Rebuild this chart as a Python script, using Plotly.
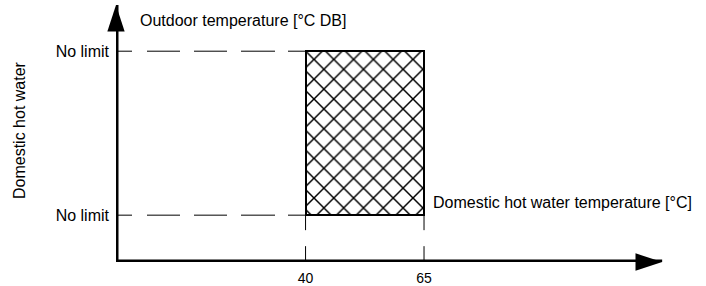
import plotly.graph_objects as go

# ---- data ----
x_ticks = [40, 65]
x_tick_labels = ["40", "65"]
y_limits = [1.0, 4.5]              # lower / upper limit positions (conceptual)
y_tick_labels = ["No limit", "No limit"]
dhw_min = 40                       # domestic hot water temperature range [°C]
dhw_max = 65
x_axis_end = 115.25
y_axis_end = 5.487
x_range = [0, 124.5]
y_range = [0, 5.593]

x_title = "Domestic hot water temperature [°C]"
y_title_top = "Outdoor temperature [°C DB]"
y_title_side = "Domestic hot water"

FONT = "Liberation Sans, Arial, sans-serif"

fig = go.Figure()

# dashed guide lines (horizontal) from the y axis to the zone
h_dash = "16px,15px,33px,14px,33px,14px,34px,13px,33px"
for yv in y_limits:
    fig.add_trace(go.Scatter(
        x=[x_range[0], dhw_min], y=[yv, yv], mode="lines",
        line=dict(color="black", width=1, dash=h_dash),
        hoverinfo="skip", showlegend=False))

# dashed guide lines (vertical) from the zone down to the x axis
v_dash = "15px,16px,15px,20px"
for xv in [dhw_min, dhw_max]:
    fig.add_trace(go.Scatter(
        x=[xv, xv], y=[y_limits[0], y_range[0]], mode="lines",
        line=dict(color="black", width=1, dash=v_dash),
        hoverinfo="skip", showlegend=False))

# hatched operating zone
fig.add_trace(go.Bar(
    x=[(dhw_min + dhw_max) / 2], width=[dhw_max - dhw_min],
    base=[y_limits[0]], y=[y_limits[1] - y_limits[0]],
    marker=dict(color="white",
                line=dict(color="black", width=2),
                pattern=dict(shape="x", fgcolor="black", bgcolor="white",
                             size=14, solidity=0.2, fillmode="replace")),
    hoverinfo="skip", showlegend=False))

# axis lines
fig.add_trace(go.Scatter(
    x=[0, 0, x_axis_end], y=[y_axis_end, 0, 0], mode="lines",
    line=dict(color="black", width=5),
    hoverinfo="skip", showlegend=False))
# arrow heads
fig.add_trace(go.Scatter(
    x=[0, x_axis_end], y=[y_axis_end, 0], mode="markers",
    marker=dict(symbol="arrow", size=28, angle=[0, 90], color="black",
                line=dict(width=0)),
    hoverinfo="skip", showlegend=False, cliponaxis=False))

fig.update_layout(
    width=706, height=286,
    margin=dict(l=116, r=0, t=0, b=22),
    paper_bgcolor="white", plot_bgcolor="white",
    font=dict(family=FONT, color="black", size=16),
    showlegend=False,
    bargap=0,
    xaxis=dict(range=x_range, showgrid=False, zeroline=False, showline=False,
               tickmode="array", tickvals=x_ticks, ticktext=x_tick_labels,
               ticks="", tickfont=dict(family=FONT, size=14, color="black"),
               ticklabelstandoff=6, fixedrange=True),
    yaxis=dict(range=y_range, showgrid=False, zeroline=False, showline=False,
               tickmode="array", tickvals=y_limits, ticktext=y_tick_labels,
               ticks="", tickfont=dict(family=FONT, size=16, color="black"),
               ticklabelstandoff=6, fixedrange=True),
    annotations=[
        dict(text=y_title_top, xref="x", yref="y", x=0, y=y_axis_end,
             xanchor="left", yanchor="middle", xshift=22, yshift=-16,
             showarrow=False, font=dict(family=FONT, size=16, color="black")),
        dict(text=x_title, xref="x", yref="y", x=dhw_max, y=y_limits[0],
             xanchor="left", yanchor="middle", xshift=7, yshift=13,
             showarrow=False, font=dict(family=FONT, size=16, color="black")),
        dict(text=y_title_side, xref="paper", yref="paper",
             x=(19 - 116) / 590, y=(264 - 131) / 264, textangle=-90,
             xanchor="center", yanchor="middle",
             showarrow=False, font=dict(family=FONT, size=16, color="black")),
    ],
)

fig.write_html("out.html", config={"displayModeBar": False},
               post_script="document.body.style.margin='0';")
